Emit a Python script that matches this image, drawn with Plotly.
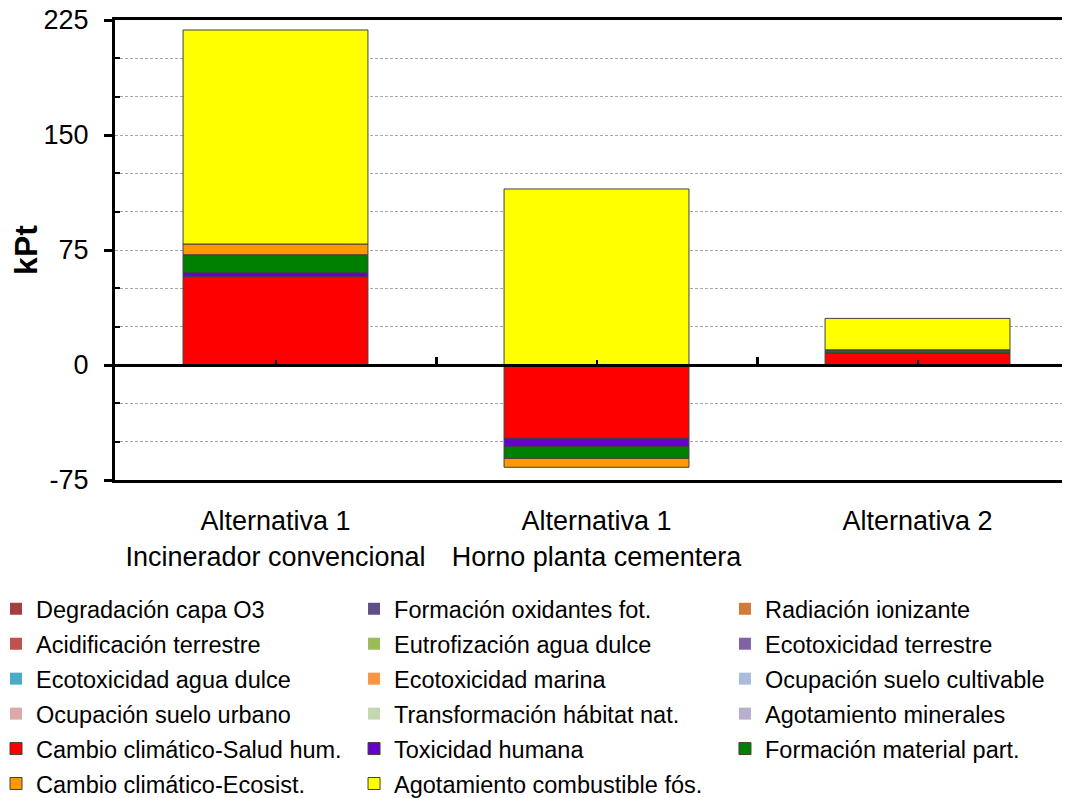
import plotly.graph_objects as go

categories = ["Alternativa 1<br>Incinerador convencional",
              "Alternativa 1<br>Horno planta cementera",
              "Alternativa 2"]

series_names = [
    "Degradación capa O3", "Formación oxidantes fot.", "Radiación ionizante",
    "Acidificación terrestre", "Eutrofización agua dulce", "Ecotoxicidad terrestre",
    "Ecotoxicidad agua dulce", "Ecotoxicidad marina", "Ocupación suelo cultivable",
    "Ocupación suelo urbano", "Transformación hábitat nat.", "Agotamiento minerales",
    "Cambio climático-Salud hum.", "Toxicidad humana", "Formación material part.",
    "Cambio climático-Ecosist.", "Agotamiento combustible fós.",
]

# values in kPt per category (Alt1 incinerador, Alt1 horno, Alt2)
degradacion_o3 = [0, 0, 0]
oxidantes_fot = [0, 0, 0]
radiacion_ion = [0, 0, 0]
acidificacion = [0, 0, 0]
eutrofizacion = [0, 0, 0]
ecotox_terrestre = [0, 0, 0]
ecotox_agua = [0, 0, 0]
ecotox_marina = [0, 0, 0]
ocup_cultivable = [0, 0, 0]
ocup_urbano = [0, 0, 0]
transf_habitat = [0, 0, 0]
agot_minerales = [0, 0, 0]
cc_salud = [57.6, -47.8, 7.6]
tox_humana = [2.6, -5.5, 0.3]
material_part = [11.7, -7.6, 1.7]
cc_ecosist = [7.0, -5.8, 0.3]
agot_fosil = [139.6, 114.8, 20.5]

series_values = [degradacion_o3, oxidantes_fot, radiacion_ion, acidificacion,
                 eutrofizacion, ecotox_terrestre, ecotox_agua, ecotox_marina,
                 ocup_cultivable, ocup_urbano, transf_habitat, agot_minerales,
                 cc_salud, tox_humana, material_part, cc_ecosist, agot_fosil]

colors = ["#a23f3f", "#624e86", "#d17b3a", "#c0504d", "#9bbb59", "#8064a2",
          "#4bacc6", "#f79646", "#a9bcdb", "#dba9a9", "#c5d7b1", "#baaecf",
          "#ff0000", "#6600cc", "#008000", "#ff9900", "#ffff00"]
bordered = [False] * 12 + [True] * 5

y_ticks = [-75, 0, 75, 150, 225]
y_ticktext = ["-75", "0", "75", "150", "225"]
y_minor = [-50, -25, 25, 50, 100, 125, 175, 200]

FONT = "Liberation Sans, Arial, sans-serif"
legends = ["legend", "legend2", "legend3"]

fig = go.Figure()
for i, (name, vals, col, b) in enumerate(zip(series_names, series_values, colors, bordered)):
    fig.add_trace(go.Bar(
        x=categories, y=vals, name=name,
        marker=dict(color=col, line=dict(color="#404040", width=1 if b else 0)),
        legend=legends[i % 3], legendgroup=f"g{i}",
    ))

# helper (no visible marks) so the category axis crossing at y=0 gets drawn
fig.add_trace(go.Scatter(x=list(range(len(categories))), y=[0] * len(categories),
                         xaxis="x2", mode="none", showlegend=False, hoverinfo="skip"))

grid = dict(showgrid=True, gridcolor="#a6a6a6", griddash="3px,2px", gridwidth=1)

leg_common = dict(yanchor="top", xanchor="left", y=-0.2326, orientation="v",
                  font=dict(family=FONT, size=23.5, color="black"),
                  bgcolor="rgba(0,0,0,0)", borderwidth=0, tracegroupgap=1.4)

fig.update_layout(
    width=1062, height=790,
    margin=dict(l=107, r=0, t=12, b=318, autoexpand=False),
    paper_bgcolor="white", plot_bgcolor="white",
    font=dict(family=FONT, color="black"),
    barmode="relative", bargap=0.424,
    xaxis=dict(type="category", range=[-0.5, 2.475], showline=True, mirror=True,
               linewidth=3, linecolor="black", ticks="", showgrid=False,
               ticklabelstandoff=15,
               tickfont=dict(family=FONT, size=27, color="black")),
    xaxis2=dict(overlaying="x", anchor="free", position=0.25, range=[-0.5, 2.475],
                showline=True, linewidth=3, linecolor="black",
                tickmode="array", tickvals=[0.5, 1.5], ticks="inside", ticklen=7,
                tickwidth=3, tickcolor="black", showticklabels=False,
                showgrid=False, zeroline=False,
                minor=dict(tickmode="array", tickvals=[0, 1, 2], ticks="inside",
                           ticklen=4, tickwidth=2, tickcolor="black")),
    yaxis=dict(range=[-75, 225], tickmode="array", tickvals=y_ticks, ticktext=y_ticktext,
               ticks="outside", ticklen=8, tickwidth=3, tickcolor="black",
               showline=True, linewidth=3, linecolor="black", zeroline=False,
               ticklabeloverflow="allow", ticklabelstandoff=10,
               tickfont=dict(family=FONT, size=27, color="black"),
               title=dict(text="<b>kPt</b>", font=dict(family=FONT, size=32, color="black"),
                          standoff=0),
               minor=dict(tickmode="array", tickvals=y_minor, ticks="inside", ticklen=5,
                          tickwidth=2, tickcolor="black", **grid),
               **grid),
    legend=dict(x=-0.1183, indentation=-6, **leg_common),
    legend2=dict(x=0.2503, **leg_common),
    legend3=dict(x=0.6387, **leg_common),
)

fig.write_html("out.html")
